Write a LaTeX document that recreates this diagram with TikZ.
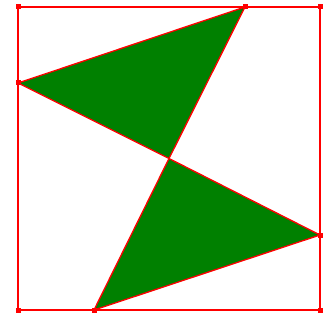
\documentclass[tikz,border=0pt]{standalone}
\usepackage{tikz}
\definecolor{linered}{RGB}{255,0,0}
\definecolor{fillgreen}{RGB}{0,128,0}
\tikzset{
    % square and triangles
    edge/.style={draw=linered, line width=1.3pt, line join=round},
    tri/.style={edge, fill=fillgreen},
    % corner and point markers
    mark dot/.style={rectangle, fill=linered, inner sep=0pt, minimum size=5pt},
}
\begin{document}
\begin{tikzpicture}[x=1pt, y=-1pt]
\useasboundingbox (0,0) rectangle (328,320);

% Square corners
\coordinate (tl) at (18,7);
\coordinate (tr) at (320,7);
\coordinate (br) at (320,310);
\coordinate (bl) at (18,310);

% Points on the sides
\coordinate (ptop)    at (245,7);
\coordinate (pleft)   at (18,83);
\coordinate (pbottom) at (94,310);
\coordinate (pright)  at (320,235);
\coordinate (mid)     at (169,158.5);

% Square
\draw[edge] (tl) -- (tr) -- (br) -- (bl) -- cycle;

% Triangles
\draw[tri] (pleft) -- (ptop) -- (mid) -- cycle;
\draw[tri] (mid) -- (pright) -- (pbottom) -- cycle;

% Markers
\foreach \p in {tl, tr, br, bl, ptop, pleft, pbottom, pright}
    \node[mark dot] at (\p) {};

\end{tikzpicture}
\end{document}
